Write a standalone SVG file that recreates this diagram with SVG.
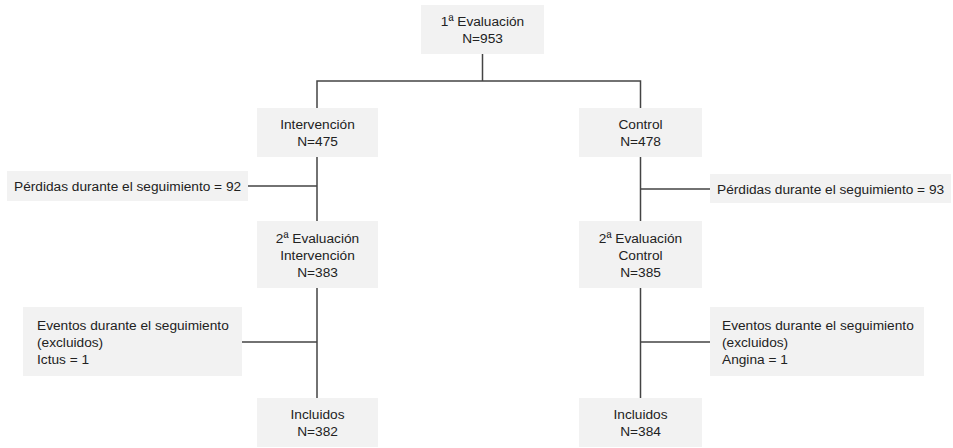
<svg xmlns="http://www.w3.org/2000/svg" width="953" height="448" viewBox="0 0 953 448">
<style>
.box{fill:#f2f2f2}
text{font-family:"Liberation Sans",Arial,sans-serif;font-size:13.7px;fill:#222}
.c{text-anchor:middle}
.ln{stroke:#444;stroke-width:1.5;fill:none}
</style>
<rect width="953" height="448" fill="#fff"/>
<g id="connectors">
<path class="ln" d="M482.5 54V81M317 81H640.5M317 80.25V108M640.5 80.25V108"/>
<path class="ln" d="M317 157V221M248 186H317"/>
<path class="ln" d="M640.5 157V221M640.5 189H710"/>
<path class="ln" d="M317 288V398M242 342H317"/>
<path class="ln" d="M640.5 288V398M640.5 342H710"/>
</g>
<g id="eval1"><rect class="box" x="421" y="5" width="123" height="49"/>
<text class="c" x="482.5" y="25.5">1ª Evaluación</text><text class="c" x="482.5" y="42.5">N=953</text></g>
<g id="intervencion"><rect class="box" x="257" y="108" width="121" height="49"/>
<text class="c" x="317.5" y="128.5">Intervención</text><text class="c" x="317.5" y="145.5">N=475</text></g>
<g id="control"><rect class="box" x="579" y="108" width="123" height="49"/>
<text class="c" x="640.5" y="128.5">Control</text><text class="c" x="640.5" y="145.5">N=478</text></g>
<g id="perdidas1"><rect class="box" x="7" y="171" width="241" height="30"/>
<text x="14" y="191">Pérdidas durante el seguimiento = 92</text></g>
<g id="perdidas2"><rect class="box" x="710" y="174" width="241" height="29"/>
<text x="717" y="193.5">Pérdidas durante el seguimiento = 93</text></g>
<g id="eval2i"><rect class="box" x="257" y="221" width="121" height="67"/>
<text class="c" x="317.5" y="242.5">2ª Evaluación</text><text class="c" x="317.5" y="259.5">Intervención</text><text class="c" x="317.5" y="276.5">N=383</text></g>
<g id="eval2c"><rect class="box" x="579" y="221" width="123" height="67"/>
<text class="c" x="640.5" y="242.5">2ª Evaluación</text><text class="c" x="640.5" y="259.5">Control</text><text class="c" x="640.5" y="276.5">N=385</text></g>
<g id="eventos1"><rect class="box" x="23" y="307" width="219" height="69"/>
<text x="37" y="330">Eventos durante el seguimiento</text><text x="37" y="347">(excluidos)</text><text x="37" y="364">Ictus = 1</text></g>
<g id="eventos2"><rect class="box" x="710" y="307" width="214" height="69"/>
<text x="722" y="330">Eventos durante el seguimiento</text><text x="722" y="347">(excluidos)</text><text x="722" y="364">Angina = 1</text></g>
<g id="incluidos1"><rect class="box" x="257" y="398" width="121" height="49"/>
<text class="c" x="317.5" y="418.5">Incluidos</text><text class="c" x="317.5" y="435.5">N=382</text></g>
<g id="incluidos2"><rect class="box" x="579" y="398" width="123" height="49"/>
<text class="c" x="640.5" y="418.5">Incluidos</text><text class="c" x="640.5" y="435.5">N=384</text></g>
</svg>
